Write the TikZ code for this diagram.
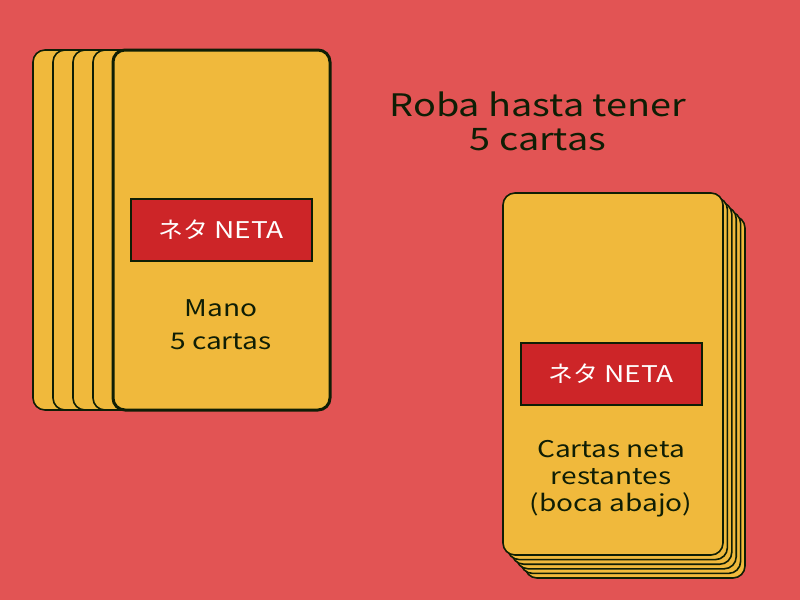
\documentclass[tikz,border=0pt]{standalone}
\usepackage{fontspec}
\setmainfont{Noto Sans CJK JP}[FakeStretch=1.22]
\newfontfamily\kana{Noto Sans CJK JP}[FakeStretch=1.08]
\definecolor{bg}{RGB}{226,84,84}
\definecolor{cardfill}{RGB}{240,185,60}
\definecolor{labelred}{RGB}{205,37,40}
\definecolor{ink}{RGB}{15,30,5}
\tikzset{
  card/.style={draw=ink, fill=cardfill, rounded corners=12pt, minimum width=217pt, minimum height=360pt, inner sep=0pt, line width=1.6pt},
  frontcard/.style={card, line width=3pt},
  deckcard/.style={card, minimum width=220pt, minimum height=362pt},
  netalabel/.style={draw=ink, fill=labelred, line width=2pt, minimum width=181pt, minimum height=62pt, text=white, font=\fontsize{23}{27}\selectfont, inner sep=0pt},
  caption/.style={text=ink, align=center, font=\fontsize{23}{33}\selectfont},
}
\begin{document}
\begin{tikzpicture}[x=1pt,y=-1pt]
\fill[bg] (0,0) rectangle (800,600);
\useasboundingbox (0,0) rectangle (800,600);
% hand
\node[card] (h1) at (141.5,230) {};
\node[card] (h2) at (161.5,230) {};
\node[card] (h3) at (181.5,230) {};
\node[card] (h4) at (201.5,230) {};
\node[frontcard] (h5) at (221.5,230) {};
\node[netalabel] (hl) at (221,229.5) {{\kana ネタ} NETA};
\node[caption] (ht) at (221,325) {Mano\\5 cartas};
% deck
\node[deckcard] (d5) at (635,397) {};
\node[deckcard] (d4) at (630.6,392.4) {};
\node[deckcard] (d3) at (626.2,387.8) {};
\node[deckcard] (d2) at (621.8,383.2) {};
\node[deckcard] (d1) at (617.4,378.6) {};
\node[deckcard] (d0) at (613,374) {};
\node[netalabel] (dl) at (611,374) {{\kana ネタ} NETA};
\node[caption, font=\fontsize{23}{27}\selectfont] (dt) at (611,479) {Cartas neta\\restantes\\(boca abajo)};
% title
\node[caption, font=\fontsize{31}{34}\selectfont] (title) at (538,121) {Roba hasta tener\\5 cartas};
\end{tikzpicture}
\end{document}
